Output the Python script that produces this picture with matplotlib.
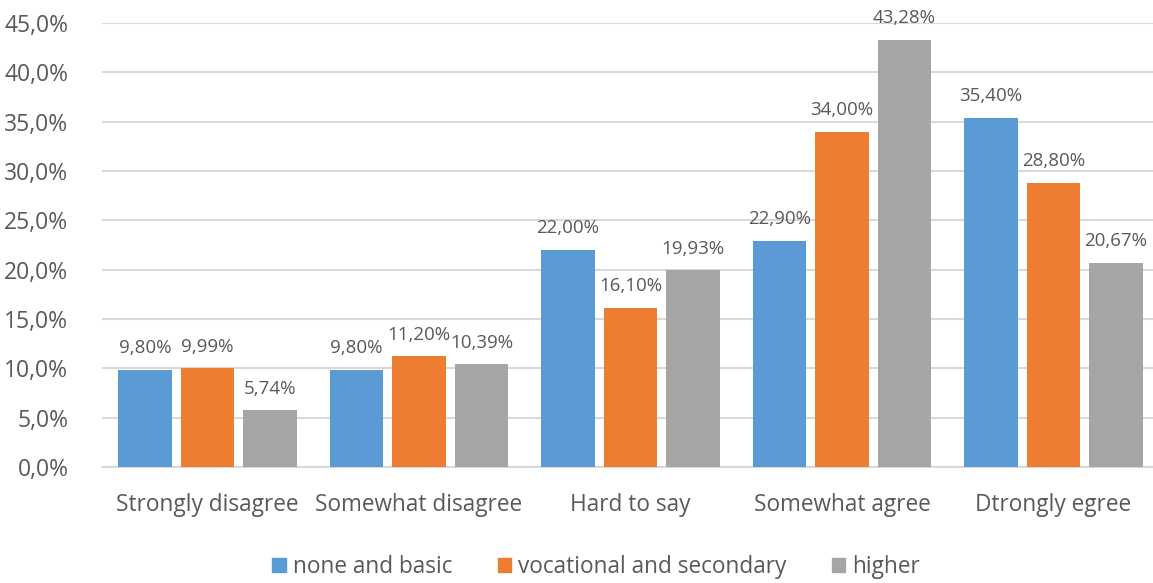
import matplotlib
matplotlib.use("Agg")
import matplotlib.pyplot as plt
import numpy as np
from matplotlib.patches import Patch

categories = ["Strongly disagree", "Somewhat disagree", "Hard to say", "Somewhat agree", "Dtrongly egree"]
series_names = ["none and basic", "vocational and secondary", "higher"]
none_basic = [9.80, 9.80, 22.00, 22.90, 35.40]
vocational = [9.99, 11.20, 16.10, 34.00, 28.80]
higher = [5.74, 10.39, 19.93, 43.28, 20.67]
colors = ["#5B9BD5", "#ED7D31", "#A5A5A5"]
yticks = np.arange(0, 46, 5)

plt.rcParams['font.family'] = ['Open Sans', 'DejaVu Sans']
txt = "#595959"

fig = plt.figure(figsize=(11.53, 5.83), dpi=100)
ax = fig.add_axes([101.75/1153, 1-467/583, 1057.5/1153, (467-23)/583])

x = np.arange(len(categories))
offset = 0.295
width = 0.252
for i, (vals, c) in enumerate(zip([none_basic, vocational, higher], colors)):
    pos = x + (i - 1) * offset
    ax.bar(pos, vals, width=width, color=c, zorder=3)
    for p, v in zip(pos, vals):
        ax.text(p, v + 1.3, f"{v:.2f}%".replace(".", ","), ha="center", va="bottom",
                fontsize=13.5, color=txt)

ax.set_xlim(-0.5, len(categories) - 0.5)
ax.set_ylim(0, 45)
ax.set_yticks(yticks)
ax.set_yticklabels([f"{t:.1f}%".replace(".", ",") for t in yticks], fontsize=16.5, color=txt)
ax.set_xticks(x)
ax.set_xticklabels(categories, fontsize=16.3, color=txt)
ax.tick_params(axis="both", length=0)
ax.tick_params(axis="x", pad=19)
ax.tick_params(axis="y", pad=24)
ax.yaxis.grid(True, color="#D9D9D9", linewidth=1.5, zorder=0)
for s in ["top", "right", "left"]:
    ax.spines[s].set_visible(False)
ax.spines["bottom"].set_color("#D9D9D9")
ax.spines["bottom"].set_linewidth(1.5)

handles = [Patch(color=c, label=n) for c, n in zip(colors, series_names)]
fig.legend(handles=handles, loc="center", bbox_to_anchor=(596/1153, 1-567/583), ncol=3,
           frameon=False, fontsize=16.3, labelcolor=txt, handlelength=0.6, handleheight=0.6,
           handletextpad=0.3, columnspacing=2.0)

fig.savefig("out.png", dpi=100)
